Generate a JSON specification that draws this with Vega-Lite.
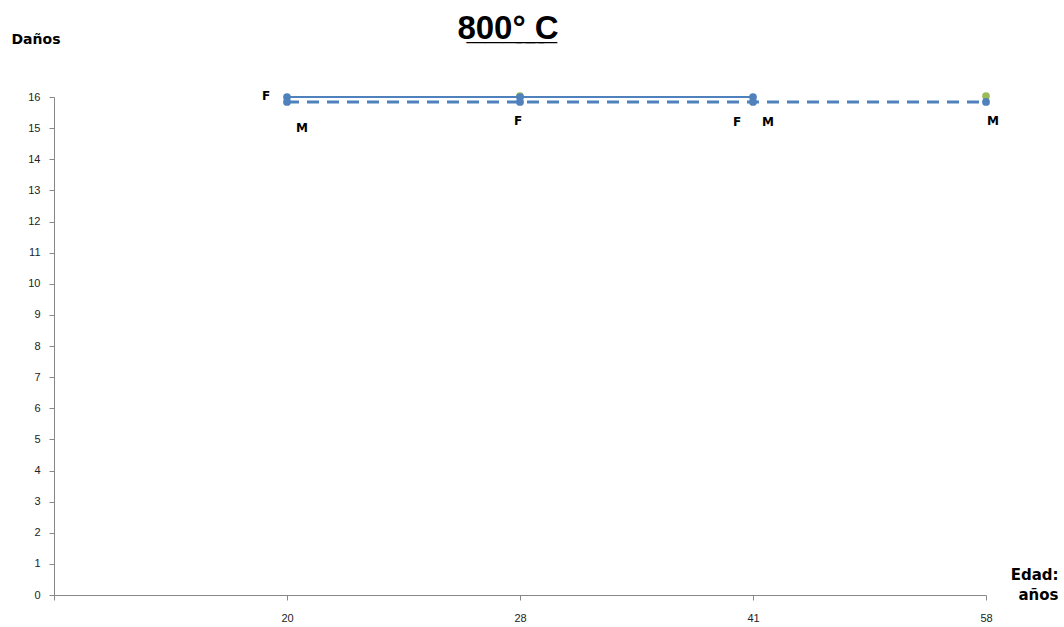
{
  "$schema": "https://vega.github.io/schema/vega-lite/v6.json",
  "autosize": {"type": "none"},
  "width": 932,
  "height": 498,
  "padding": {"left": 54, "top": 97, "right": 78, "bottom": 32},
  "background": "white",
  "title": {
    "text": "8̲0̲0̲°̲ ̲C̲",
    "font": "Liberation Sans",
    "fontSize": 33,
    "fontWeight": "bold",
    "color": "black",
    "anchor": "middle",
    "frame": "group",
    "dx": -12,
    "offset": -14
  },
  "datasets": {
    "series": [
      {"edad": "20", "sexo": "F", "danos": 16},
      {"edad": "28", "sexo": "F", "danos": 16},
      {"edad": "41", "sexo": "F", "danos": 16},
      {"edad": "20", "sexo": "M", "danos": 15.84},
      {"edad": "28", "sexo": "M", "danos": 15.84},
      {"edad": "41", "sexo": "M", "danos": 15.84},
      {"edad": "58", "sexo": "M", "danos": 15.84}
    ],
    "extra": [
      {"edad": "28", "danos": 16},
      {"edad": "58", "danos": 16}
    ]
  },
  "encoding": {
    "x": {
      "field": "edad",
      "type": "nominal",
      "scale": {"type": "point", "domain": ["", "20", "28", "41", "58"], "padding": 0},
      "axis": {
        "title": ["Edad:", "años"],
        "titleFont": "DejaVu Sans",
        "titleFontSize": 15,
        "titleFontWeight": "bold",
        "titleColor": "black",
        "titleAlign": "right",
        "titleBaseline": "top",
        "titleLineHeight": 20,
        "titleX": 1004,
        "titleY": -28,
        "labelAngle": 0,
        "labelFont": "Liberation Sans",
        "labelFontSize": 11,
        "labelColor": "#222",
        "labelPadding": 12,
        "tickSize": 5,
        "tickColor": "#888",
        "domainColor": "#888",
        "grid": false
      }
    },
    "y": {
      "field": "danos",
      "type": "quantitative",
      "scale": {"domain": [0, 16], "nice": false, "zero": true},
      "axis": {
        "title": "Daños",
        "titleFont": "DejaVu Sans",
        "titleFontSize": 14,
        "titleFontWeight": "bold",
        "titleColor": "black",
        "titleAngle": 0,
        "titleAlign": "left",
        "titleBaseline": "middle",
        "titleX": -43,
        "titleY": -58,
        "values": [0,1,2,3,4,5,6,7,8,9,10,11,12,13,14,15,16],
        "labelFont": "Liberation Sans",
        "labelFontSize": 11,
        "labelColor": "#222",
        "labelPadding": 9,
        "tickSize": 5,
        "tickColor": "#888",
        "domainColor": "#888",
        "grid": false
      }
    }
  },
  "layer": [
    {
      "data": {"name": "extra"},
      "mark": {"type": "point", "filled": true, "color": "#9BBB59", "size": 60, "opacity": 1, "yOffset": -1},
      "encoding": {}
    },
    {
      "data": {"name": "series"},
      "transform": [{"filter": "datum.sexo === 'M'"}],
      "mark": {"type": "line", "color": "#4F81BD", "strokeWidth": 3, "strokeDash": [12, 8]},
      "encoding": {}
    },
    {
      "data": {"name": "series"},
      "transform": [{"filter": "datum.sexo === 'F'"}],
      "mark": {"type": "line", "color": "#4F81BD", "strokeWidth": 2},
      "encoding": {}
    },
    {
      "data": {"name": "series"},
      "mark": {"type": "point", "filled": true, "color": "#4F81BD", "size": 60, "opacity": 1},
      "encoding": {}
    },
    {
      "data": {"name": "series"},
      "transform": [{"filter": "datum.sexo === 'F' && datum.edad === '20'"}],
      "mark": {"type": "text", "text": "F", "font": "DejaVu Sans", "fontSize": 12, "fontWeight": "bold", "color": "black", "dx": -21, "dy": -1},
      "encoding": {}
    },
    {
      "data": {"name": "series"},
      "transform": [{"filter": "datum.sexo === 'F' && datum.edad === '28'"}],
      "mark": {"type": "text", "text": "F", "font": "DejaVu Sans", "fontSize": 12, "fontWeight": "bold", "color": "black", "dx": -2, "dy": 24},
      "encoding": {}
    },
    {
      "data": {"name": "series"},
      "transform": [{"filter": "datum.sexo === 'F' && datum.edad === '41'"}],
      "mark": {"type": "text", "text": "F", "font": "DejaVu Sans", "fontSize": 12, "fontWeight": "bold", "color": "black", "dx": -16, "dy": 25},
      "encoding": {}
    },
    {
      "data": {"name": "series"},
      "transform": [{"filter": "datum.sexo === 'M' && datum.edad === '20'"}],
      "mark": {"type": "text", "text": "M", "font": "DejaVu Sans", "fontSize": 12, "fontWeight": "bold", "color": "black", "dx": 15, "dy": 26},
      "encoding": {}
    },
    {
      "data": {"name": "series"},
      "transform": [{"filter": "datum.sexo === 'M' && datum.edad === '41'"}],
      "mark": {"type": "text", "text": "M", "font": "DejaVu Sans", "fontSize": 12, "fontWeight": "bold", "color": "black", "dx": 15, "dy": 20},
      "encoding": {}
    },
    {
      "data": {"name": "series"},
      "transform": [{"filter": "datum.sexo === 'M' && datum.edad === '58'"}],
      "mark": {"type": "text", "text": "M", "font": "DejaVu Sans", "fontSize": 12, "fontWeight": "bold", "color": "black", "dx": 7, "dy": 19},
      "encoding": {}
    }
  ],
  "config": {"view": {"stroke": null}}
}
